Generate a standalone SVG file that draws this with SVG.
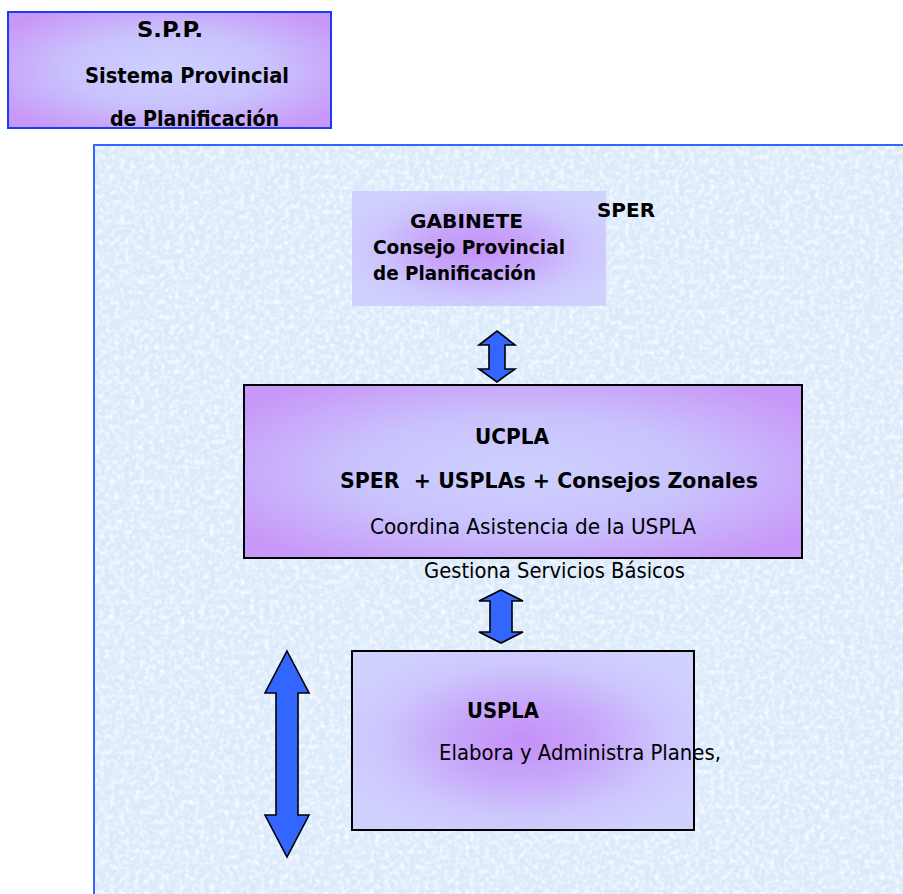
<svg xmlns="http://www.w3.org/2000/svg" width="903" height="894" viewBox="0 0 903 894">
<defs>
<radialGradient id="gLight" cx="50%" cy="50%" r="62%">
<stop offset="0" stop-color="#cdd0ff"/>
<stop offset="0.5" stop-color="#c9c3fd"/>
<stop offset="1" stop-color="#c898f8"/>
</radialGradient>
<radialGradient id="gDark" cx="50%" cy="50%" r="60%">
<stop offset="0" stop-color="#c490f8"/>
<stop offset="0.35" stop-color="#c7a6fa"/>
<stop offset="0.7" stop-color="#cdc6fd"/>
<stop offset="1" stop-color="#d0d2fe"/>
</radialGradient>
<filter id="whiteSpecks" x="0" y="0" width="100%" height="100%">
<feTurbulence type="fractalNoise" baseFrequency="0.2" numOctaves="2" seed="4"/>
<feColorMatrix type="matrix" values="0 0 0 0 1  0 0 0 0 1  0 0 0 0 1  2.0 0 0 0 -0.85"/>
</filter>
<filter id="blueSpecks" x="0" y="0" width="100%" height="100%">
<feTurbulence type="fractalNoise" baseFrequency="0.12" numOctaves="2" seed="11"/>
<feColorMatrix type="matrix" values="0 0 0 0 0.74  0 0 0 0 0.85  0 0 0 0 0.98  0 2.6 0 0 -1.05"/>
</filter>
<style>
.t{font-family:"DejaVu Sans Condensed","DejaVu Sans","Liberation Sans",sans-serif;font-stretch:condensed;fill:#000}
.b{font-weight:bold}
.arrow{fill:#3366ff;stroke:#000;stroke-width:1.6;stroke-linejoin:miter}
</style>
</defs>
<rect width="903" height="894" fill="#ffffff"/>

<g id="panel">
<rect x="94" y="145" width="812" height="752" fill="#dae9fb"/>
<rect x="94" y="145" width="812" height="752" fill="#fff" filter="url(#blueSpecks)"/>
<rect x="94" y="145" width="812" height="752" fill="#fff" filter="url(#whiteSpecks)"/>
<rect x="94" y="145" width="812" height="752" fill="none" stroke="#3366ff" stroke-width="2"/>
</g>

<g id="spp">
<rect x="8" y="12" width="323" height="116" fill="url(#gLight)" stroke="#1a3cf5" stroke-width="2"/>
<text class="t b" x="137" y="37" font-size="21" textLength="66" lengthAdjust="spacingAndGlyphs">S.P.P.</text>
<text class="t b" x="85" y="83" font-size="21" textLength="204" lengthAdjust="spacingAndGlyphs">Sistema Provincial</text>
<text class="t b" x="110" y="126" font-size="21" textLength="169" lengthAdjust="spacingAndGlyphs">de Planificación</text>
</g>

<g id="gabinete">
<rect x="352" y="191" width="254" height="115" fill="url(#gDark)"/>
<text class="t b" x="410" y="228" font-size="20" textLength="113" lengthAdjust="spacingAndGlyphs">GABINETE</text>
<text class="t b" x="373" y="254" font-size="20" textLength="192" lengthAdjust="spacingAndGlyphs">Consejo Provincial</text>
<text class="t b" x="373" y="280" font-size="20" textLength="163" lengthAdjust="spacingAndGlyphs">de Planificación</text>
</g>

<g id="sper">
<text class="t b" x="597" y="217" font-size="20" textLength="58" lengthAdjust="spacingAndGlyphs">SPER</text>
</g>

<g id="ucpla">
<rect x="244" y="385" width="558" height="173" fill="url(#gLight)" stroke="#000" stroke-width="2"/>
<text class="t b" x="475" y="444" font-size="21" textLength="74" lengthAdjust="spacingAndGlyphs">UCPLA</text>
<text class="t b" x="340" y="488" font-size="21" textLength="418" lengthAdjust="spacingAndGlyphs" xml:space="preserve">SPER  + USPLAs + Consejos Zonales</text>
<text class="t" x="370" y="534" font-size="21" textLength="326" lengthAdjust="spacingAndGlyphs">Coordina Asistencia de la USPLA</text>
</g>

<g id="gestiona">
<text class="t" x="424" y="578" font-size="21" textLength="261" lengthAdjust="spacingAndGlyphs">Gestiona Servicios Básicos</text>
</g>

<g id="uspla">
<rect x="352" y="651" width="342" height="179" fill="url(#gDark)"/>
<text class="t b" x="467" y="718" font-size="21" textLength="72" lengthAdjust="spacingAndGlyphs">USPLA</text>
<text class="t" x="439" y="760" font-size="21" textLength="282" lengthAdjust="spacingAndGlyphs">Elabora y Administra Planes,</text>
<rect x="352" y="651" width="342" height="179" fill="none" stroke="#000" stroke-width="2"/>
</g>

<g id="connectors">
<path class="arrow" d="M497,331 L515,345 L505,345 L505,369 L515,369 L497,382 L479,369 L489,369 L489,345 L479,345 Z"/>
<path class="arrow" d="M501,590 L523,601 L512,601 L512,632 L523,632 L501,643 L479,632 L490,632 L490,601 L479,601 Z"/>
<path class="arrow" d="M287,651 L309,693 L298,693 L298,815 L309,815 L287,857 L265,815 L276,815 L276,693 L265,693 Z"/>
</g>
</svg>
